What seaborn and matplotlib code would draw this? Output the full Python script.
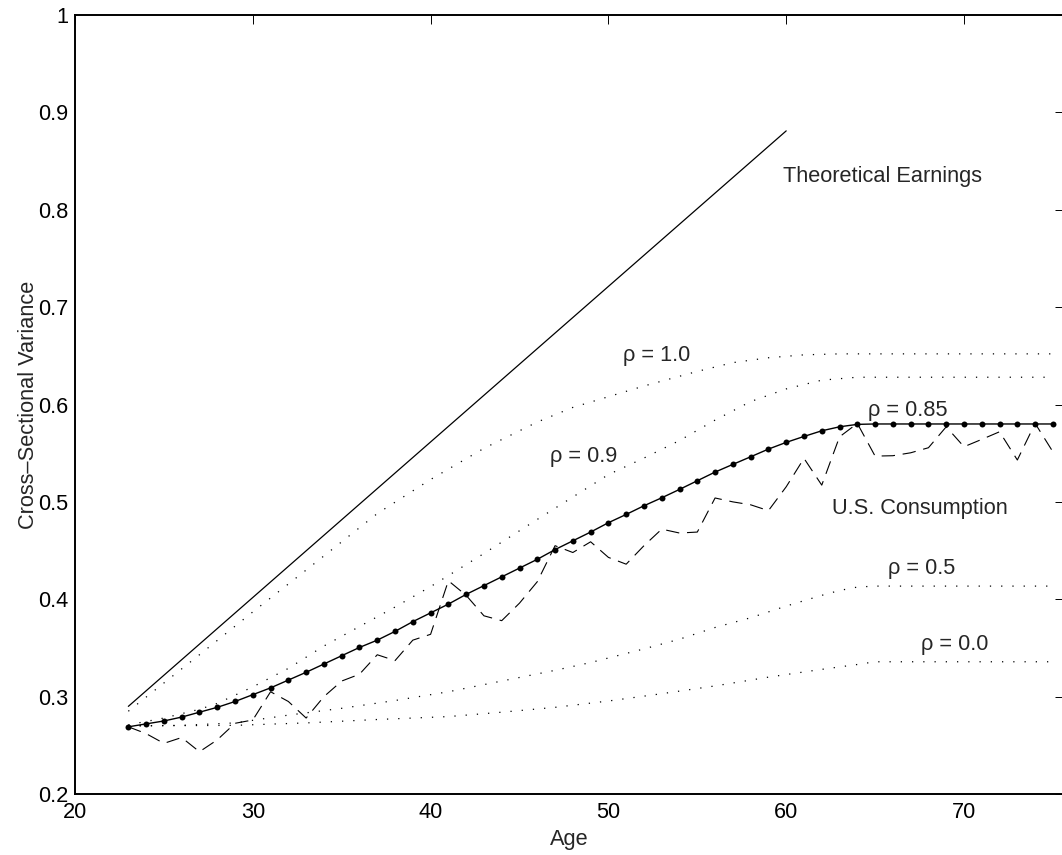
import numpy as np
import pandas as pd
import matplotlib
matplotlib.use('Agg')
import matplotlib.pyplot as plt
import seaborn as sns
from matplotlib.ticker import FuncFormatter

# Style
sns.set_style('white')
plt.rcParams['font.family'] = ['Liberation Sans', 'DejaVu Sans']
plt.rcParams['font.size'] = 15.7

# Data
ages = list(range(23, 76))
rho085 = [0.269, 0.272, 0.275, 0.279, 0.284, 0.289, 0.295, 0.302, 0.309, 0.317,
          0.325, 0.3335, 0.342, 0.3505, 0.358, 0.367, 0.377, 0.386, 0.395, 0.405,
          0.414, 0.423, 0.432, 0.441, 0.451, 0.460, 0.469, 0.4786, 0.4871, 0.496,
          0.5042, 0.5128, 0.5217, 0.5306, 0.5385, 0.5463, 0.5542, 0.5611, 0.5672, 0.573,
          0.5771, 0.5796, 0.580, 0.580, 0.580, 0.580, 0.580, 0.580, 0.580, 0.580,
          0.580, 0.580, 0.580]
us_consumption = [0.269, 0.262, 0.252, 0.258, 0.2434, 0.2556, 0.2726, 0.276, 0.305, 0.295,
                  0.278, 0.300, 0.316, 0.323, 0.343, 0.337, 0.358, 0.364, 0.419, 0.404,
                  0.383, 0.378, 0.396, 0.418, 0.455, 0.448, 0.459, 0.443, 0.436, 0.455,
                  0.472, 0.468, 0.469, 0.504, 0.500, 0.497, 0.491, 0.5155, 0.5447, 0.5172,
                  0.5668, 0.5806, 0.547, 0.5474, 0.5504, 0.5556, 0.5771, 0.5566, 0.5642, 0.572,
                  0.543, 0.5806, 0.5514]

earn_age = [23, 60]
earn = [0.29, 0.881]

rho10_age = [23, 25, 27, 30, 33, 35, 37, 40, 43, 46, 48, 50, 52, 53, 55, 57, 59, 61, 63, 65, 75]
rho10 = [0.285, 0.314, 0.343, 0.387, 0.430, 0.459, 0.488, 0.523, 0.555, 0.582, 0.597,
         0.608, 0.619, 0.624, 0.634, 0.643, 0.648, 0.651, 0.652, 0.652, 0.652]

rho09_age = [23, 25, 27, 28, 30, 32, 34, 36, 38, 40, 43, 46, 48, 50, 52, 54, 56, 58, 60, 62, 64, 75]
rho09 = [0.271, 0.278, 0.287, 0.293, 0.310, 0.329, 0.352, 0.372, 0.392, 0.413, 0.447,
         0.482, 0.505, 0.528, 0.545, 0.563, 0.584, 0.603, 0.616, 0.625, 0.628, 0.628]

rho05_age = [23, 26, 29, 32, 35, 38, 41, 44, 47, 49, 52, 54, 56, 58, 60, 62, 63, 64, 65, 75]
rho05 = [0.270, 0.2705, 0.273, 0.281, 0.288, 0.296, 0.305, 0.316, 0.327, 0.335, 0.349,
         0.359, 0.371, 0.381, 0.393, 0.404, 0.409, 0.4125, 0.4135, 0.4135]

rho00_age = [23, 29, 33, 37, 41, 44, 47, 50, 53, 56, 59, 62, 64, 65, 75]
rho00 = [0.270, 0.2705, 0.273, 0.2765, 0.2795, 0.284, 0.289, 0.2955, 0.303, 0.311,
         0.320, 0.328, 0.333, 0.3358, 0.3358]

label_text = ['Theoretical Earnings', 'ρ = 1.0', 'ρ = 0.9', 'ρ = 0.85',
              'U.S. Consumption', 'ρ = 0.5', 'ρ = 0.0']
label_x = [59.8, 50.84, 46.7, 64.6, 62.56, 65.74, 67.6]
label_y = [0.834, 0.6507, 0.5463, 0.594, 0.4933, 0.4317, 0.3537]

# Figure
fig = plt.figure(figsize=(10.62, 8.55), dpi=100)
ax = fig.add_axes([75 / 1062, 61 / 855, 989 / 1062, 779 / 855])

dotted = (0, (1, 8))
sns.lineplot(x=earn_age, y=earn, ax=ax, color='black', lw=0.9)
for xa, ya in [(rho10_age, rho10), (rho09_age, rho09), (rho05_age, rho05), (rho00_age, rho00)]:
    sns.lineplot(x=xa, y=ya, ax=ax, color='black', lw=0.9, linestyle=dotted)
sns.lineplot(x=ages, y=rho085, ax=ax, color='black', lw=1.0, marker='o',
             markersize=4.3, markeredgewidth=0)
sns.lineplot(x=ages, y=us_consumption, ax=ax, color='black', lw=0.8,
             linestyle=(0, (12, 7)))

for t, tx, ty in zip(label_text, label_x, label_y):
    ax.text(tx, ty, t, ha='left', va='center', fontsize=15.7)

ax.set_xlim(20, 20 + (1064 - 75) / 17.78)
ax.set_ylim(0.2, 1.0)
ax.set_xticks(range(20, 71, 10))
ax.set_yticks(np.arange(0.2, 1.01, 0.1))
ax.yaxis.set_major_formatter(FuncFormatter(lambda v, p: f'{v:g}'))
ax.tick_params(direction='in', length=6.5, width=0.7, top=True, right=True,
               labelsize=15.7, colors='black')
ax.tick_params(axis='x', pad=6)
ax.tick_params(axis='y', pad=5)
for s in ax.spines.values():
    s.set_linewidth(1.4)
    s.set_color('black')

ax.set_xlabel('Age', fontsize=15.7)
ax.set_ylabel('Cross–Sectional Variance', fontsize=15.7)
ax.xaxis.set_label_coords(0.5, -0.045)
ax.yaxis.set_label_coords(-0.036, 0.5)
ax.grid(False)

fig.savefig('out.png', dpi=100)
